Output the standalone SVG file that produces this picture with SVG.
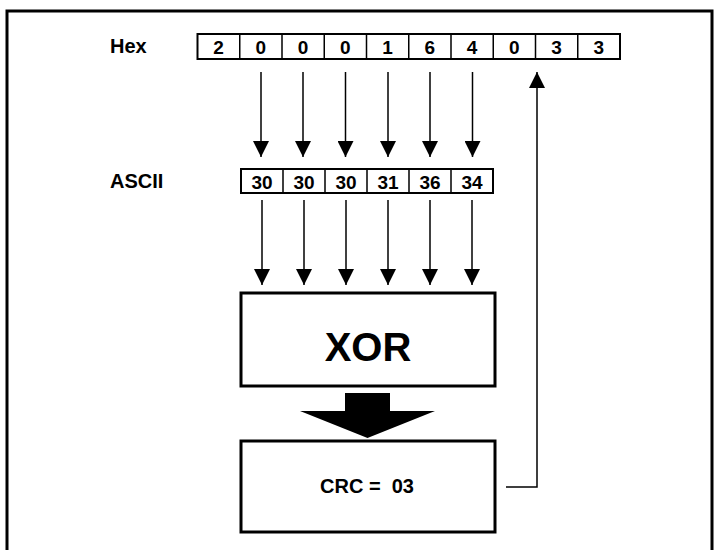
<svg xmlns="http://www.w3.org/2000/svg" width="720" height="550" viewBox="0 0 720 550">
<style>
text{font-family:"Liberation Sans",Arial,sans-serif;font-weight:bold;fill:#000;text-anchor:middle}
.cell{font-size:19px}
.lbl{font-size:20px;text-anchor:start}
.thin{fill:none;stroke:#000;stroke-width:1.5}
.box{fill:#fff;stroke:#000;stroke-width:2}
.big{fill:#fff;stroke:#000;stroke-width:3}
.ar{fill:none;stroke:#000;stroke-width:1.5}
</style>
<defs>
<marker id="ah" viewBox="0 0 16 16" refX="16" refY="8" markerWidth="16" markerHeight="16" markerUnits="userSpaceOnUse" orient="auto">
<path d="M0,0 L16,8 L0,16 Z" fill="#000"/>
</marker>
</defs>
<rect width="720" height="550" fill="#fff"/>
<path d="M7,552 V11 H712 V552" fill="none" stroke="#000" stroke-width="3"/>

<g id="hex">
<text class="lbl" x="110" y="53">Hex</text>
<rect class="box" x="197.5" y="34" width="422.5" height="25"/>
<path class="thin" d="M239.75,34V59M282,34V59M324.25,34V59M366.5,34V59M408.75,34V59M451,34V59M493.25,34V59M535.5,34V59M577.75,34V59"/>
<text class="cell" x="218.6" y="53.5">2</text>
<text class="cell" x="260.9" y="53.5">0</text>
<text class="cell" x="303.1" y="53.5">0</text>
<text class="cell" x="345.4" y="53.5">0</text>
<text class="cell" x="387.6" y="53.5">1</text>
<text class="cell" x="429.9" y="53.5">6</text>
<text class="cell" x="472.1" y="53.5">4</text>
<text class="cell" x="514.4" y="53.5">0</text>
<text class="cell" x="556.6" y="53.5">3</text>
<text class="cell" x="598.9" y="53.5">3</text>
</g>

<g id="ascii">
<text class="lbl" x="110" y="188">ASCII</text>
<rect class="box" x="241" y="169" width="252" height="24"/>
<path class="thin" d="M283,169V193M325,169V193M367,169V193M409,169V193M451,169V193"/>
<text class="cell" x="262" y="188.5">30</text>
<text class="cell" x="304" y="188.5">30</text>
<text class="cell" x="346" y="188.5">30</text>
<text class="cell" x="388" y="188.5">31</text>
<text class="cell" x="430" y="188.5">36</text>
<text class="cell" x="472" y="188.5">34</text>
</g>

<g id="xor">
<rect class="big" x="241" y="293" width="254" height="93"/>
<text x="368" y="361" style="font-size:40px">XOR</text>
</g>

<g id="crc">
<rect class="big" x="241" y="441" width="254" height="91"/>
<text x="367" y="493" style="font-size:20px" xml:space="preserve">CRC =  03</text>
</g>

<g id="connectors">
<path class="ar" marker-end="url(#ah)" d="M261,72V157"/>
<path class="ar" marker-end="url(#ah)" d="M303,72V157"/>
<path class="ar" marker-end="url(#ah)" d="M345.5,72V157"/>
<path class="ar" marker-end="url(#ah)" d="M388,72V157"/>
<path class="ar" marker-end="url(#ah)" d="M430,72V157"/>
<path class="ar" marker-end="url(#ah)" d="M472.5,72V157"/>
<path class="ar" marker-end="url(#ah)" d="M262,200V285"/>
<path class="ar" marker-end="url(#ah)" d="M304,200V285"/>
<path class="ar" marker-end="url(#ah)" d="M346,200V285"/>
<path class="ar" marker-end="url(#ah)" d="M388,200V285"/>
<path class="ar" marker-end="url(#ah)" d="M430,200V285"/>
<path class="ar" marker-end="url(#ah)" d="M472,200V285"/>
<path class="ar" marker-end="url(#ah)" d="M506,487H537V72"/>
<path d="M345,393H390V411H435L367.5,438L300,411H345Z" fill="#000"/>
</g>
</svg>
